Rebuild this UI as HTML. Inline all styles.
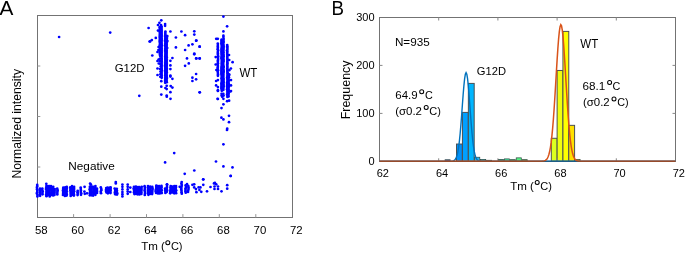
<!DOCTYPE html>
<html><head><meta charset="utf-8"><title>Figure</title>
<style>html,body{margin:0;padding:0;background:#fff}svg{display:block;will-change:transform}</style>
</head><body>
<svg width="685" height="253" viewBox="0 0 685 253" font-family="'Liberation Sans', sans-serif" fill="#000">
<rect width="685" height="253" fill="#fff"/>
<rect x="37.5" y="15.5" width="255.0" height="202.0" fill="none" stroke="#737373" stroke-width="1"/>
<path d="M73.6 217.5v-3.4M110.1 217.5v-3.4M146.5 217.5v-3.4M182.9 217.5v-3.4M219.3 217.5v-3.4M255.8 217.5v-3.4M37.5 66.0h2.8M37.5 116.5h2.8M37.5 167.0h2.8" stroke="#969696" stroke-width="1" fill="none"/>
<g fill="#0000ff">
<circle cx="59.1" cy="37.0" r="1.36"/>
<circle cx="110.2" cy="32.6" r="1.36"/>
<circle cx="148.6" cy="28.0" r="1.36"/>
<circle cx="149.6" cy="41.5" r="1.36"/>
<circle cx="161.3" cy="20.3" r="1.36"/>
<circle cx="159.4" cy="22.8" r="1.36"/>
<circle cx="158.0" cy="25.0" r="1.36"/>
<circle cx="161.0" cy="25.0" r="1.36"/>
<circle cx="165.1" cy="24.0" r="1.36"/>
<circle cx="165.1" cy="25.8" r="1.36"/>
<circle cx="159.7" cy="27.1" r="1.36"/>
<circle cx="158.0" cy="30.6" r="1.36"/>
<circle cx="170.4" cy="31.5" r="1.36"/>
<circle cx="181.4" cy="31.5" r="1.36"/>
<circle cx="185.1" cy="35.2" r="1.36"/>
<circle cx="194.3" cy="31.3" r="1.36"/>
<circle cx="194.3" cy="34.6" r="1.36"/>
<circle cx="159.9" cy="27.5" r="1.36"/>
<circle cx="159.8" cy="28.8" r="1.36"/>
<circle cx="159.9" cy="30.0" r="1.36"/>
<circle cx="159.8" cy="31.2" r="1.36"/>
<circle cx="159.9" cy="32.5" r="1.36"/>
<circle cx="159.9" cy="33.8" r="1.36"/>
<circle cx="159.8" cy="35.0" r="1.36"/>
<circle cx="159.9" cy="36.2" r="1.36"/>
<circle cx="159.8" cy="37.5" r="1.36"/>
<circle cx="159.9" cy="38.8" r="1.36"/>
<circle cx="159.8" cy="40.0" r="1.36"/>
<circle cx="159.8" cy="41.2" r="1.36"/>
<circle cx="159.9" cy="42.5" r="1.36"/>
<circle cx="160.0" cy="43.8" r="1.36"/>
<circle cx="159.8" cy="45.0" r="1.36"/>
<circle cx="159.8" cy="46.2" r="1.36"/>
<circle cx="159.9" cy="47.5" r="1.36"/>
<circle cx="160.0" cy="48.8" r="1.36"/>
<circle cx="159.9" cy="50.0" r="1.36"/>
<circle cx="159.9" cy="51.2" r="1.36"/>
<circle cx="160.0" cy="52.5" r="1.36"/>
<circle cx="159.8" cy="53.8" r="1.36"/>
<circle cx="160.0" cy="55.0" r="1.36"/>
<circle cx="160.2" cy="56.0" r="1.36"/>
<circle cx="160.0" cy="58.6" r="1.36"/>
<circle cx="160.0" cy="61.2" r="1.36"/>
<circle cx="160.2" cy="63.8" r="1.36"/>
<circle cx="160.7" cy="66.4" r="1.36"/>
<circle cx="160.1" cy="69.0" r="1.36"/>
<circle cx="160.5" cy="71.6" r="1.36"/>
<circle cx="160.5" cy="74.2" r="1.36"/>
<circle cx="160.3" cy="76.8" r="1.36"/>
<circle cx="161.6" cy="26.5" r="1.36"/>
<circle cx="161.5" cy="27.8" r="1.36"/>
<circle cx="161.5" cy="29.0" r="1.36"/>
<circle cx="161.5" cy="30.2" r="1.36"/>
<circle cx="161.6" cy="31.5" r="1.36"/>
<circle cx="161.6" cy="32.8" r="1.36"/>
<circle cx="161.6" cy="34.0" r="1.36"/>
<circle cx="161.6" cy="35.2" r="1.36"/>
<circle cx="161.6" cy="36.5" r="1.36"/>
<circle cx="161.6" cy="37.8" r="1.36"/>
<circle cx="161.7" cy="39.0" r="1.36"/>
<circle cx="161.6" cy="40.2" r="1.36"/>
<circle cx="161.5" cy="41.5" r="1.36"/>
<circle cx="161.6" cy="42.8" r="1.36"/>
<circle cx="161.6" cy="44.0" r="1.36"/>
<circle cx="161.7" cy="45.2" r="1.36"/>
<circle cx="161.6" cy="46.5" r="1.36"/>
<circle cx="161.6" cy="47.8" r="1.36"/>
<circle cx="161.7" cy="49.0" r="1.36"/>
<circle cx="161.5" cy="50.2" r="1.36"/>
<circle cx="161.6" cy="51.5" r="1.36"/>
<circle cx="161.7" cy="52.8" r="1.36"/>
<circle cx="161.5" cy="54.0" r="1.36"/>
<circle cx="161.6" cy="55.2" r="1.36"/>
<circle cx="161.5" cy="56.5" r="1.36"/>
<circle cx="161.6" cy="57.8" r="1.36"/>
<circle cx="161.7" cy="59.0" r="1.36"/>
<circle cx="161.6" cy="60.2" r="1.36"/>
<circle cx="161.7" cy="61.5" r="1.36"/>
<circle cx="161.6" cy="62.8" r="1.36"/>
<circle cx="161.6" cy="64.0" r="1.36"/>
<circle cx="161.6" cy="65.2" r="1.36"/>
<circle cx="161.6" cy="66.5" r="1.36"/>
<circle cx="161.6" cy="67.8" r="1.36"/>
<circle cx="161.7" cy="69.0" r="1.36"/>
<circle cx="161.7" cy="70.2" r="1.36"/>
<circle cx="161.6" cy="71.5" r="1.36"/>
<circle cx="161.6" cy="72.8" r="1.36"/>
<circle cx="161.5" cy="74.0" r="1.36"/>
<circle cx="161.6" cy="75.2" r="1.36"/>
<circle cx="161.6" cy="76.5" r="1.36"/>
<circle cx="161.7" cy="77.8" r="1.36"/>
<circle cx="165.4" cy="31.5" r="1.36"/>
<circle cx="165.3" cy="32.8" r="1.36"/>
<circle cx="165.3" cy="34.0" r="1.36"/>
<circle cx="165.3" cy="35.2" r="1.36"/>
<circle cx="165.2" cy="36.5" r="1.36"/>
<circle cx="165.3" cy="37.8" r="1.36"/>
<circle cx="165.2" cy="39.0" r="1.36"/>
<circle cx="165.2" cy="40.2" r="1.36"/>
<circle cx="165.2" cy="41.5" r="1.36"/>
<circle cx="165.4" cy="42.8" r="1.36"/>
<circle cx="165.2" cy="44.0" r="1.36"/>
<circle cx="165.2" cy="45.2" r="1.36"/>
<circle cx="165.3" cy="46.5" r="1.36"/>
<circle cx="165.4" cy="47.8" r="1.36"/>
<circle cx="165.2" cy="49.0" r="1.36"/>
<circle cx="165.3" cy="50.2" r="1.36"/>
<circle cx="165.3" cy="51.5" r="1.36"/>
<circle cx="165.4" cy="52.8" r="1.36"/>
<circle cx="165.4" cy="54.0" r="1.36"/>
<circle cx="165.4" cy="55.2" r="1.36"/>
<circle cx="165.3" cy="56.5" r="1.36"/>
<circle cx="165.3" cy="57.8" r="1.36"/>
<circle cx="165.3" cy="59.0" r="1.36"/>
<circle cx="165.4" cy="60.2" r="1.36"/>
<circle cx="165.4" cy="61.5" r="1.36"/>
<circle cx="165.2" cy="62.8" r="1.36"/>
<circle cx="165.2" cy="64.0" r="1.36"/>
<circle cx="165.2" cy="65.2" r="1.36"/>
<circle cx="165.2" cy="66.5" r="1.36"/>
<circle cx="165.3" cy="67.8" r="1.36"/>
<circle cx="165.3" cy="69.0" r="1.36"/>
<circle cx="165.3" cy="70.2" r="1.36"/>
<circle cx="165.2" cy="71.5" r="1.36"/>
<circle cx="165.3" cy="72.8" r="1.36"/>
<circle cx="165.3" cy="74.0" r="1.36"/>
<circle cx="165.3" cy="75.2" r="1.36"/>
<circle cx="165.4" cy="76.5" r="1.36"/>
<circle cx="165.3" cy="77.8" r="1.36"/>
<circle cx="165.3" cy="79.0" r="1.36"/>
<circle cx="165.3" cy="80.2" r="1.36"/>
<circle cx="165.3" cy="81.5" r="1.36"/>
<circle cx="165.2" cy="82.8" r="1.36"/>
<circle cx="166.8" cy="36.0" r="1.36"/>
<circle cx="166.8" cy="37.2" r="1.36"/>
<circle cx="166.8" cy="38.5" r="1.36"/>
<circle cx="166.8" cy="39.8" r="1.36"/>
<circle cx="166.7" cy="41.0" r="1.36"/>
<circle cx="166.7" cy="42.2" r="1.36"/>
<circle cx="166.6" cy="43.5" r="1.36"/>
<circle cx="166.7" cy="44.8" r="1.36"/>
<circle cx="166.6" cy="46.0" r="1.36"/>
<circle cx="166.6" cy="47.2" r="1.36"/>
<circle cx="166.6" cy="48.5" r="1.36"/>
<circle cx="166.6" cy="49.8" r="1.36"/>
<circle cx="166.7" cy="51.0" r="1.36"/>
<circle cx="166.6" cy="52.2" r="1.36"/>
<circle cx="166.6" cy="53.5" r="1.36"/>
<circle cx="166.6" cy="54.8" r="1.36"/>
<circle cx="166.6" cy="56.0" r="1.36"/>
<circle cx="166.7" cy="57.2" r="1.36"/>
<circle cx="166.6" cy="58.5" r="1.36"/>
<circle cx="166.8" cy="59.8" r="1.36"/>
<circle cx="166.7" cy="61.0" r="1.36"/>
<circle cx="166.6" cy="62.2" r="1.36"/>
<circle cx="166.7" cy="63.5" r="1.36"/>
<circle cx="166.7" cy="64.8" r="1.36"/>
<circle cx="166.7" cy="66.0" r="1.36"/>
<circle cx="166.6" cy="67.2" r="1.36"/>
<circle cx="166.8" cy="68.5" r="1.36"/>
<circle cx="166.8" cy="69.8" r="1.36"/>
<circle cx="166.7" cy="71.0" r="1.36"/>
<circle cx="166.7" cy="72.2" r="1.36"/>
<circle cx="166.6" cy="73.5" r="1.36"/>
<circle cx="166.6" cy="74.8" r="1.36"/>
<circle cx="166.7" cy="76.0" r="1.36"/>
<circle cx="166.7" cy="77.2" r="1.36"/>
<circle cx="166.8" cy="78.5" r="1.36"/>
<circle cx="166.6" cy="79.8" r="1.36"/>
<circle cx="166.6" cy="81.0" r="1.36"/>
<circle cx="166.8" cy="82.2" r="1.36"/>
<circle cx="158.6" cy="47" r="1.36"/>
<circle cx="158.4" cy="50" r="1.36"/>
<circle cx="157.5" cy="52.0" r="1.36"/>
<circle cx="157.5" cy="61.0" r="1.36"/>
<circle cx="158.6" cy="59.5" r="1.36"/>
<circle cx="158.8" cy="63.5" r="1.36"/>
<circle cx="157.5" cy="68.5" r="1.36"/>
<circle cx="157.5" cy="75.0" r="1.36"/>
<circle cx="155.8" cy="37.9" r="1.36"/>
<circle cx="150.1" cy="41.4" r="1.36"/>
<circle cx="151.8" cy="40.1" r="1.36"/>
<circle cx="152.3" cy="55.5" r="1.36"/>
<circle cx="167.3" cy="36" r="1.36"/>
<circle cx="167.4" cy="41" r="1.36"/>
<circle cx="167.2" cy="48" r="1.36"/>
<circle cx="175.9" cy="37.5" r="1.36"/>
<circle cx="196.1" cy="40.7" r="1.36"/>
<circle cx="192.4" cy="44.3" r="1.36"/>
<circle cx="188.6" cy="45.4" r="1.36"/>
<circle cx="175.9" cy="47.4" r="1.36"/>
<circle cx="185.1" cy="50.0" r="1.36"/>
<circle cx="199.6" cy="46.7" r="1.36"/>
<circle cx="194.3" cy="53.5" r="1.36"/>
<circle cx="172.4" cy="58.0" r="1.36"/>
<circle cx="170.4" cy="60.8" r="1.36"/>
<circle cx="170.4" cy="65.4" r="1.36"/>
<circle cx="170.4" cy="69.1" r="1.36"/>
<circle cx="170.4" cy="75.5" r="1.36"/>
<circle cx="187.0" cy="58.4" r="1.36"/>
<circle cx="196.1" cy="58.4" r="1.36"/>
<circle cx="199.6" cy="58.4" r="1.36"/>
<circle cx="188.8" cy="63.4" r="1.36"/>
<circle cx="185.1" cy="65.8" r="1.36"/>
<circle cx="196.1" cy="74.0" r="1.36"/>
<circle cx="194.3" cy="54.3" r="1.36"/>
<circle cx="170.4" cy="76.6" r="1.36"/>
<circle cx="172.4" cy="78.8" r="1.36"/>
<circle cx="192.4" cy="77.7" r="1.36"/>
<circle cx="196.1" cy="79.3" r="1.36"/>
<circle cx="192.4" cy="81.0" r="1.36"/>
<circle cx="196.4" cy="40.6" r="1.36"/>
<circle cx="199.7" cy="46.7" r="1.36"/>
<circle cx="161.3" cy="81.2" r="1.36"/>
<circle cx="161.3" cy="86.7" r="1.36"/>
<circle cx="166.7" cy="85.8" r="1.36"/>
<circle cx="165.4" cy="88.0" r="1.36"/>
<circle cx="166.7" cy="89.1" r="1.36"/>
<circle cx="170.7" cy="86.1" r="1.36"/>
<circle cx="172.4" cy="87.6" r="1.36"/>
<circle cx="170.4" cy="92.2" r="1.36"/>
<circle cx="161.3" cy="94.6" r="1.36"/>
<circle cx="166.7" cy="95.5" r="1.36"/>
<circle cx="170.5" cy="98.8" r="1.36"/>
<circle cx="166.8" cy="96.7" r="1.36"/>
<circle cx="139.3" cy="95.8" r="1.36"/>
<circle cx="199.7" cy="92.3" r="1.36"/>
<circle cx="223.4" cy="16.6" r="1.36"/>
<circle cx="227.1" cy="26.3" r="1.36"/>
<circle cx="223.4" cy="31.4" r="1.36"/>
<circle cx="223.4" cy="35.7" r="1.36"/>
<circle cx="223.4" cy="37.1" r="1.36"/>
<circle cx="216.2" cy="38.8" r="1.36"/>
<circle cx="217.8" cy="38.8" r="1.36"/>
<circle cx="221.6" cy="39.5" r="1.36"/>
<circle cx="221.4" cy="40.8" r="1.36"/>
<circle cx="221.6" cy="42.0" r="1.36"/>
<circle cx="221.4" cy="43.2" r="1.36"/>
<circle cx="221.6" cy="44.5" r="1.36"/>
<circle cx="221.8" cy="45.8" r="1.36"/>
<circle cx="221.8" cy="47.0" r="1.36"/>
<circle cx="221.7" cy="48.2" r="1.36"/>
<circle cx="221.5" cy="49.5" r="1.36"/>
<circle cx="221.5" cy="50.8" r="1.36"/>
<circle cx="221.4" cy="52.0" r="1.36"/>
<circle cx="221.7" cy="53.2" r="1.36"/>
<circle cx="221.6" cy="54.5" r="1.36"/>
<circle cx="221.7" cy="55.8" r="1.36"/>
<circle cx="221.5" cy="57.0" r="1.36"/>
<circle cx="221.5" cy="58.2" r="1.36"/>
<circle cx="221.8" cy="59.5" r="1.36"/>
<circle cx="221.8" cy="60.8" r="1.36"/>
<circle cx="221.8" cy="62.0" r="1.36"/>
<circle cx="221.8" cy="63.2" r="1.36"/>
<circle cx="221.8" cy="64.5" r="1.36"/>
<circle cx="221.7" cy="65.8" r="1.36"/>
<circle cx="221.5" cy="67.0" r="1.36"/>
<circle cx="221.6" cy="68.2" r="1.36"/>
<circle cx="221.5" cy="69.5" r="1.36"/>
<circle cx="221.4" cy="70.8" r="1.36"/>
<circle cx="221.4" cy="72.0" r="1.36"/>
<circle cx="221.5" cy="73.2" r="1.36"/>
<circle cx="221.5" cy="74.5" r="1.36"/>
<circle cx="221.7" cy="75.8" r="1.36"/>
<circle cx="221.8" cy="77.0" r="1.36"/>
<circle cx="221.6" cy="78.2" r="1.36"/>
<circle cx="221.8" cy="79.5" r="1.36"/>
<circle cx="221.8" cy="80.8" r="1.36"/>
<circle cx="221.8" cy="82.0" r="1.36"/>
<circle cx="221.5" cy="83.2" r="1.36"/>
<circle cx="221.5" cy="84.5" r="1.36"/>
<circle cx="221.5" cy="85.8" r="1.36"/>
<circle cx="221.4" cy="87.0" r="1.36"/>
<circle cx="221.5" cy="88.2" r="1.36"/>
<circle cx="221.7" cy="89.5" r="1.36"/>
<circle cx="221.8" cy="90.8" r="1.36"/>
<circle cx="223.6" cy="38.8" r="1.36"/>
<circle cx="223.4" cy="40.0" r="1.36"/>
<circle cx="223.5" cy="41.3" r="1.36"/>
<circle cx="223.5" cy="42.5" r="1.36"/>
<circle cx="223.2" cy="43.8" r="1.36"/>
<circle cx="223.5" cy="45.0" r="1.36"/>
<circle cx="223.6" cy="46.3" r="1.36"/>
<circle cx="223.5" cy="47.5" r="1.36"/>
<circle cx="223.5" cy="48.8" r="1.36"/>
<circle cx="223.4" cy="50.0" r="1.36"/>
<circle cx="223.2" cy="51.3" r="1.36"/>
<circle cx="223.5" cy="52.5" r="1.36"/>
<circle cx="223.3" cy="53.8" r="1.36"/>
<circle cx="223.6" cy="55.0" r="1.36"/>
<circle cx="223.6" cy="56.3" r="1.36"/>
<circle cx="223.3" cy="57.5" r="1.36"/>
<circle cx="223.4" cy="58.8" r="1.36"/>
<circle cx="223.6" cy="60.0" r="1.36"/>
<circle cx="223.5" cy="61.3" r="1.36"/>
<circle cx="223.2" cy="62.5" r="1.36"/>
<circle cx="223.2" cy="63.8" r="1.36"/>
<circle cx="223.2" cy="65.0" r="1.36"/>
<circle cx="223.6" cy="66.3" r="1.36"/>
<circle cx="223.6" cy="67.5" r="1.36"/>
<circle cx="223.2" cy="68.8" r="1.36"/>
<circle cx="223.6" cy="70.0" r="1.36"/>
<circle cx="223.6" cy="71.3" r="1.36"/>
<circle cx="223.5" cy="72.5" r="1.36"/>
<circle cx="223.3" cy="73.8" r="1.36"/>
<circle cx="223.4" cy="75.0" r="1.36"/>
<circle cx="223.2" cy="76.3" r="1.36"/>
<circle cx="223.2" cy="77.5" r="1.36"/>
<circle cx="223.6" cy="78.8" r="1.36"/>
<circle cx="223.5" cy="80.0" r="1.36"/>
<circle cx="223.4" cy="81.3" r="1.36"/>
<circle cx="223.6" cy="82.5" r="1.36"/>
<circle cx="223.4" cy="83.8" r="1.36"/>
<circle cx="223.6" cy="85.0" r="1.36"/>
<circle cx="223.6" cy="86.3" r="1.36"/>
<circle cx="223.3" cy="87.5" r="1.36"/>
<circle cx="223.3" cy="88.8" r="1.36"/>
<circle cx="223.3" cy="90.0" r="1.36"/>
<circle cx="217.8" cy="43.6" r="1.36"/>
<circle cx="217.9" cy="45.0" r="1.36"/>
<circle cx="217.8" cy="46.4" r="1.36"/>
<circle cx="217.9" cy="47.8" r="1.36"/>
<circle cx="217.7" cy="49.2" r="1.36"/>
<circle cx="218.1" cy="50.6" r="1.36"/>
<circle cx="217.8" cy="52.0" r="1.36"/>
<circle cx="217.9" cy="53.4" r="1.36"/>
<circle cx="217.9" cy="54.8" r="1.36"/>
<circle cx="218.1" cy="56.2" r="1.36"/>
<circle cx="217.9" cy="57.6" r="1.36"/>
<circle cx="218.1" cy="59.0" r="1.36"/>
<circle cx="217.9" cy="60.4" r="1.36"/>
<circle cx="217.9" cy="61.8" r="1.36"/>
<circle cx="217.9" cy="63.2" r="1.36"/>
<circle cx="217.7" cy="64.6" r="1.36"/>
<circle cx="217.9" cy="66.0" r="1.36"/>
<circle cx="217.7" cy="67.4" r="1.36"/>
<circle cx="217.7" cy="68.8" r="1.36"/>
<circle cx="218.0" cy="70.2" r="1.36"/>
<circle cx="217.7" cy="71.6" r="1.36"/>
<circle cx="217.9" cy="73.0" r="1.36"/>
<circle cx="218.0" cy="74.4" r="1.36"/>
<circle cx="217.9" cy="75.8" r="1.36"/>
<circle cx="227.2" cy="45.0" r="1.36"/>
<circle cx="227.3" cy="46.3" r="1.36"/>
<circle cx="227.3" cy="47.6" r="1.36"/>
<circle cx="227.4" cy="48.9" r="1.36"/>
<circle cx="227.1" cy="50.2" r="1.36"/>
<circle cx="227.3" cy="51.5" r="1.36"/>
<circle cx="227.2" cy="52.8" r="1.36"/>
<circle cx="227.2" cy="54.1" r="1.36"/>
<circle cx="227.4" cy="55.4" r="1.36"/>
<circle cx="227.3" cy="56.7" r="1.36"/>
<circle cx="227.3" cy="58.0" r="1.36"/>
<circle cx="227.4" cy="59.3" r="1.36"/>
<circle cx="227.5" cy="60.6" r="1.36"/>
<circle cx="227.3" cy="61.9" r="1.36"/>
<circle cx="227.4" cy="63.2" r="1.36"/>
<circle cx="227.3" cy="64.5" r="1.36"/>
<circle cx="227.3" cy="65.8" r="1.36"/>
<circle cx="227.4" cy="67.1" r="1.36"/>
<circle cx="227.3" cy="68.4" r="1.36"/>
<circle cx="227.3" cy="69.7" r="1.36"/>
<circle cx="227.3" cy="71.0" r="1.36"/>
<circle cx="227.5" cy="72.3" r="1.36"/>
<circle cx="227.4" cy="73.6" r="1.36"/>
<circle cx="227.5" cy="74.9" r="1.36"/>
<circle cx="227.5" cy="76.2" r="1.36"/>
<circle cx="227.2" cy="77.5" r="1.36"/>
<circle cx="227.3" cy="78.8" r="1.36"/>
<circle cx="227.5" cy="80.1" r="1.36"/>
<circle cx="227.5" cy="81.4" r="1.36"/>
<circle cx="227.1" cy="82.7" r="1.36"/>
<circle cx="227.1" cy="84.0" r="1.36"/>
<circle cx="227.3" cy="85.3" r="1.36"/>
<circle cx="227.1" cy="86.6" r="1.36"/>
<circle cx="227.2" cy="87.9" r="1.36"/>
<circle cx="227.1" cy="89.2" r="1.36"/>
<circle cx="227.4" cy="90.5" r="1.36"/>
<circle cx="227.4" cy="91.8" r="1.36"/>
<circle cx="227.5" cy="93.1" r="1.36"/>
<circle cx="227.1" cy="94.4" r="1.36"/>
<circle cx="227.4" cy="95.7" r="1.36"/>
<circle cx="227.4" cy="97.0" r="1.36"/>
<circle cx="228.5" cy="74.0" r="1.36"/>
<circle cx="228.9" cy="75.6" r="1.36"/>
<circle cx="228.9" cy="77.2" r="1.36"/>
<circle cx="228.6" cy="78.8" r="1.36"/>
<circle cx="228.9" cy="80.4" r="1.36"/>
<circle cx="228.6" cy="82.0" r="1.36"/>
<circle cx="228.7" cy="83.6" r="1.36"/>
<circle cx="228.9" cy="85.2" r="1.36"/>
<circle cx="228.9" cy="86.8" r="1.36"/>
<circle cx="228.5" cy="88.4" r="1.36"/>
<circle cx="228.7" cy="90.0" r="1.36"/>
<circle cx="228.7" cy="91.6" r="1.36"/>
<circle cx="228.6" cy="93.2" r="1.36"/>
<circle cx="228.5" cy="94.8" r="1.36"/>
<circle cx="228.6" cy="96.4" r="1.36"/>
<circle cx="215.7" cy="57.1" r="1.36"/>
<circle cx="215.7" cy="64.5" r="1.36"/>
<circle cx="216.4" cy="70" r="1.36"/>
<circle cx="232.6" cy="62.2" r="1.36"/>
<circle cx="230.9" cy="68.5" r="1.36"/>
<circle cx="229.3" cy="70.2" r="1.36"/>
<circle cx="229.3" cy="74.6" r="1.36"/>
<circle cx="229.0" cy="55" r="1.36"/>
<circle cx="229.2" cy="60" r="1.36"/>
<circle cx="217.9" cy="80.1" r="1.36"/>
<circle cx="216.1" cy="81.0" r="1.36"/>
<circle cx="216.1" cy="85.4" r="1.36"/>
<circle cx="217.9" cy="87.1" r="1.36"/>
<circle cx="217.9" cy="90.2" r="1.36"/>
<circle cx="217.9" cy="90.9" r="1.36"/>
<circle cx="231.0" cy="80.1" r="1.36"/>
<circle cx="231.0" cy="85.4" r="1.36"/>
<circle cx="231.0" cy="91.1" r="1.36"/>
<circle cx="230.2" cy="91.5" r="1.36"/>
<circle cx="221.6" cy="93.8" r="1.36"/>
<circle cx="223.3" cy="93.8" r="1.36"/>
<circle cx="221.6" cy="95.5" r="1.36"/>
<circle cx="223.6" cy="95.6" r="1.36"/>
<circle cx="222.2" cy="96.8" r="1.36"/>
<circle cx="223.4" cy="98.8" r="1.36"/>
<circle cx="217.9" cy="99.0" r="1.36"/>
<circle cx="217.6" cy="98.8" r="1.36"/>
<circle cx="227.1" cy="101.2" r="1.36"/>
<circle cx="229.1" cy="100.7" r="1.36"/>
<circle cx="223.4" cy="104.3" r="1.36"/>
<circle cx="221.5" cy="108.1" r="1.36"/>
<circle cx="229.0" cy="115.8" r="1.36"/>
<circle cx="221.4" cy="117.7" r="1.36"/>
<circle cx="223.4" cy="119.4" r="1.36"/>
<circle cx="229.0" cy="122.2" r="1.36"/>
<circle cx="227.2" cy="128.7" r="1.36"/>
<circle cx="227.0" cy="130.0" r="1.36"/>
<circle cx="196.4" cy="58.4" r="1.36"/>
<circle cx="199.7" cy="58.4" r="1.36"/>
<circle cx="199.7" cy="92.3" r="1.36"/>
<circle cx="174.2" cy="153.1" r="1.36"/>
<circle cx="165.1" cy="162.4" r="1.36"/>
<circle cx="194.3" cy="170.5" r="1.36"/>
<circle cx="184.7" cy="173.8" r="1.36"/>
<circle cx="223.4" cy="144.3" r="1.36"/>
<circle cx="216.0" cy="161.5" r="1.36"/>
<circle cx="223.4" cy="166.4" r="1.36"/>
<circle cx="232.5" cy="167.4" r="1.36"/>
<circle cx="230.7" cy="175.9" r="1.36"/>
<circle cx="203.2" cy="179.3" r="1.36"/>
<circle cx="214.9" cy="182.9" r="1.36"/>
<circle cx="37.2" cy="184.9" r="1.36"/>
<circle cx="37.2" cy="186.4" r="1.36"/>
<circle cx="36.9" cy="187.8" r="1.36"/>
<circle cx="37.1" cy="189.3" r="1.36"/>
<circle cx="37.3" cy="190.7" r="1.36"/>
<circle cx="37.2" cy="192.2" r="1.36"/>
<circle cx="36.9" cy="193.6" r="1.36"/>
<circle cx="37.5" cy="195.1" r="1.36"/>
<circle cx="37.4" cy="196.5" r="1.36"/>
<circle cx="40.0" cy="188.6" r="1.36"/>
<circle cx="39.8" cy="190.0" r="1.36"/>
<circle cx="40.3" cy="191.5" r="1.36"/>
<circle cx="40.0" cy="192.9" r="1.36"/>
<circle cx="39.9" cy="194.4" r="1.36"/>
<circle cx="40.1" cy="195.8" r="1.36"/>
<circle cx="42.3" cy="188.5" r="1.36"/>
<circle cx="42.2" cy="190.0" r="1.36"/>
<circle cx="42.7" cy="191.4" r="1.36"/>
<circle cx="42.4" cy="192.9" r="1.36"/>
<circle cx="42.5" cy="194.3" r="1.36"/>
<circle cx="46.4" cy="186.1" r="1.36"/>
<circle cx="46.3" cy="187.5" r="1.36"/>
<circle cx="46.0" cy="189.0" r="1.36"/>
<circle cx="46.6" cy="190.4" r="1.36"/>
<circle cx="46.4" cy="191.9" r="1.36"/>
<circle cx="46.5" cy="193.3" r="1.36"/>
<circle cx="46.1" cy="194.8" r="1.36"/>
<circle cx="46.5" cy="196.2" r="1.36"/>
<circle cx="47.9" cy="186.1" r="1.36"/>
<circle cx="47.9" cy="187.5" r="1.36"/>
<circle cx="48.0" cy="189.0" r="1.36"/>
<circle cx="48.2" cy="190.4" r="1.36"/>
<circle cx="47.8" cy="191.9" r="1.36"/>
<circle cx="47.8" cy="193.3" r="1.36"/>
<circle cx="48.0" cy="194.8" r="1.36"/>
<circle cx="49.4" cy="186.2" r="1.36"/>
<circle cx="49.4" cy="187.7" r="1.36"/>
<circle cx="49.5" cy="189.1" r="1.36"/>
<circle cx="49.5" cy="190.6" r="1.36"/>
<circle cx="49.5" cy="192.0" r="1.36"/>
<circle cx="49.8" cy="193.5" r="1.36"/>
<circle cx="49.5" cy="194.9" r="1.36"/>
<circle cx="49.7" cy="196.4" r="1.36"/>
<circle cx="51.0" cy="186.2" r="1.36"/>
<circle cx="51.2" cy="187.6" r="1.36"/>
<circle cx="51.0" cy="189.1" r="1.36"/>
<circle cx="51.5" cy="190.5" r="1.36"/>
<circle cx="51.4" cy="192.0" r="1.36"/>
<circle cx="51.1" cy="193.4" r="1.36"/>
<circle cx="51.3" cy="194.9" r="1.36"/>
<circle cx="53.2" cy="186.8" r="1.36"/>
<circle cx="53.0" cy="188.3" r="1.36"/>
<circle cx="53.0" cy="189.7" r="1.36"/>
<circle cx="53.2" cy="191.2" r="1.36"/>
<circle cx="52.9" cy="192.6" r="1.36"/>
<circle cx="53.0" cy="194.1" r="1.36"/>
<circle cx="53.1" cy="195.5" r="1.36"/>
<circle cx="54.7" cy="189.1" r="1.36"/>
<circle cx="54.6" cy="190.5" r="1.36"/>
<circle cx="54.6" cy="192.0" r="1.36"/>
<circle cx="54.4" cy="193.4" r="1.36"/>
<circle cx="54.4" cy="194.9" r="1.36"/>
<circle cx="57.2" cy="188.7" r="1.36"/>
<circle cx="57.6" cy="190.2" r="1.36"/>
<circle cx="57.4" cy="191.6" r="1.36"/>
<circle cx="57.3" cy="193.1" r="1.36"/>
<circle cx="57.3" cy="194.5" r="1.36"/>
<circle cx="63.3" cy="187.7" r="1.36"/>
<circle cx="63.1" cy="189.1" r="1.36"/>
<circle cx="63.0" cy="190.6" r="1.36"/>
<circle cx="63.1" cy="192.0" r="1.36"/>
<circle cx="63.2" cy="193.5" r="1.36"/>
<circle cx="63.0" cy="194.9" r="1.36"/>
<circle cx="65.3" cy="187.3" r="1.36"/>
<circle cx="65.3" cy="188.8" r="1.36"/>
<circle cx="65.0" cy="190.2" r="1.36"/>
<circle cx="64.8" cy="191.7" r="1.36"/>
<circle cx="65.3" cy="193.1" r="1.36"/>
<circle cx="64.9" cy="194.6" r="1.36"/>
<circle cx="64.9" cy="196.0" r="1.36"/>
<circle cx="66.8" cy="186.9" r="1.36"/>
<circle cx="66.8" cy="188.4" r="1.36"/>
<circle cx="66.6" cy="189.8" r="1.36"/>
<circle cx="66.8" cy="191.3" r="1.36"/>
<circle cx="66.5" cy="192.7" r="1.36"/>
<circle cx="66.7" cy="194.2" r="1.36"/>
<circle cx="66.6" cy="195.6" r="1.36"/>
<circle cx="70.3" cy="187.3" r="1.36"/>
<circle cx="70.5" cy="188.7" r="1.36"/>
<circle cx="70.4" cy="190.2" r="1.36"/>
<circle cx="70.7" cy="191.6" r="1.36"/>
<circle cx="70.6" cy="193.1" r="1.36"/>
<circle cx="70.8" cy="194.5" r="1.36"/>
<circle cx="70.7" cy="196.0" r="1.36"/>
<circle cx="72.2" cy="187.5" r="1.36"/>
<circle cx="72.1" cy="189.0" r="1.36"/>
<circle cx="72.5" cy="190.4" r="1.36"/>
<circle cx="72.0" cy="191.9" r="1.36"/>
<circle cx="72.4" cy="193.3" r="1.36"/>
<circle cx="72.3" cy="194.8" r="1.36"/>
<circle cx="74.1" cy="186.9" r="1.36"/>
<circle cx="74.0" cy="188.4" r="1.36"/>
<circle cx="74.0" cy="189.8" r="1.36"/>
<circle cx="74.1" cy="191.3" r="1.36"/>
<circle cx="73.7" cy="192.7" r="1.36"/>
<circle cx="73.9" cy="194.2" r="1.36"/>
<circle cx="73.9" cy="195.6" r="1.36"/>
<circle cx="77.7" cy="190.8" r="1.36"/>
<circle cx="77.6" cy="192.2" r="1.36"/>
<circle cx="77.7" cy="193.7" r="1.36"/>
<circle cx="77.6" cy="195.1" r="1.36"/>
<circle cx="80.7" cy="187.5" r="1.36"/>
<circle cx="80.8" cy="189.0" r="1.36"/>
<circle cx="80.9" cy="190.4" r="1.36"/>
<circle cx="80.8" cy="191.9" r="1.36"/>
<circle cx="81.2" cy="193.3" r="1.36"/>
<circle cx="81.0" cy="194.8" r="1.36"/>
<circle cx="90.0" cy="186.6" r="1.36"/>
<circle cx="89.9" cy="188.0" r="1.36"/>
<circle cx="89.6" cy="189.5" r="1.36"/>
<circle cx="90.1" cy="190.9" r="1.36"/>
<circle cx="90.0" cy="192.4" r="1.36"/>
<circle cx="89.9" cy="193.8" r="1.36"/>
<circle cx="89.9" cy="195.3" r="1.36"/>
<circle cx="91.8" cy="186.6" r="1.36"/>
<circle cx="91.6" cy="188.0" r="1.36"/>
<circle cx="91.4" cy="189.5" r="1.36"/>
<circle cx="91.6" cy="190.9" r="1.36"/>
<circle cx="91.8" cy="192.4" r="1.36"/>
<circle cx="91.5" cy="193.8" r="1.36"/>
<circle cx="91.8" cy="195.3" r="1.36"/>
<circle cx="93.4" cy="186.9" r="1.36"/>
<circle cx="93.5" cy="188.3" r="1.36"/>
<circle cx="93.6" cy="189.8" r="1.36"/>
<circle cx="93.7" cy="191.2" r="1.36"/>
<circle cx="93.6" cy="192.7" r="1.36"/>
<circle cx="93.6" cy="194.1" r="1.36"/>
<circle cx="93.2" cy="195.6" r="1.36"/>
<circle cx="95.4" cy="186.1" r="1.36"/>
<circle cx="95.2" cy="187.6" r="1.36"/>
<circle cx="95.3" cy="189.0" r="1.36"/>
<circle cx="95.0" cy="190.5" r="1.36"/>
<circle cx="95.0" cy="191.9" r="1.36"/>
<circle cx="95.2" cy="193.4" r="1.36"/>
<circle cx="95.4" cy="194.8" r="1.36"/>
<circle cx="96.9" cy="188.6" r="1.36"/>
<circle cx="97.0" cy="190.1" r="1.36"/>
<circle cx="97.0" cy="191.5" r="1.36"/>
<circle cx="97.0" cy="193.0" r="1.36"/>
<circle cx="100.8" cy="187.4" r="1.36"/>
<circle cx="101.3" cy="188.9" r="1.36"/>
<circle cx="101.3" cy="190.3" r="1.36"/>
<circle cx="100.7" cy="191.8" r="1.36"/>
<circle cx="101.0" cy="193.2" r="1.36"/>
<circle cx="106.2" cy="188.0" r="1.36"/>
<circle cx="106.1" cy="189.5" r="1.36"/>
<circle cx="106.0" cy="190.9" r="1.36"/>
<circle cx="106.5" cy="192.4" r="1.36"/>
<circle cx="107.5" cy="187.5" r="1.36"/>
<circle cx="107.7" cy="188.9" r="1.36"/>
<circle cx="107.9" cy="190.4" r="1.36"/>
<circle cx="107.4" cy="191.8" r="1.36"/>
<circle cx="107.9" cy="193.3" r="1.36"/>
<circle cx="109.3" cy="187.8" r="1.36"/>
<circle cx="109.0" cy="189.2" r="1.36"/>
<circle cx="109.4" cy="190.7" r="1.36"/>
<circle cx="109.1" cy="192.1" r="1.36"/>
<circle cx="110.6" cy="187.3" r="1.36"/>
<circle cx="110.6" cy="188.8" r="1.36"/>
<circle cx="110.5" cy="190.2" r="1.36"/>
<circle cx="110.4" cy="191.7" r="1.36"/>
<circle cx="110.5" cy="193.1" r="1.36"/>
<circle cx="114.7" cy="188.5" r="1.36"/>
<circle cx="115.2" cy="189.9" r="1.36"/>
<circle cx="115.2" cy="191.4" r="1.36"/>
<circle cx="114.8" cy="192.8" r="1.36"/>
<circle cx="115.3" cy="194.3" r="1.36"/>
<circle cx="116.8" cy="188.8" r="1.36"/>
<circle cx="116.8" cy="190.3" r="1.36"/>
<circle cx="116.8" cy="191.7" r="1.36"/>
<circle cx="117.2" cy="193.2" r="1.36"/>
<circle cx="117.0" cy="194.6" r="1.36"/>
<circle cx="134.0" cy="186.8" r="1.36"/>
<circle cx="133.8" cy="188.3" r="1.36"/>
<circle cx="133.9" cy="189.7" r="1.36"/>
<circle cx="134.3" cy="191.2" r="1.36"/>
<circle cx="134.0" cy="192.6" r="1.36"/>
<circle cx="134.4" cy="194.1" r="1.36"/>
<circle cx="135.9" cy="186.7" r="1.36"/>
<circle cx="135.7" cy="188.2" r="1.36"/>
<circle cx="135.8" cy="189.6" r="1.36"/>
<circle cx="136.2" cy="191.1" r="1.36"/>
<circle cx="136.2" cy="192.5" r="1.36"/>
<circle cx="136.1" cy="194.0" r="1.36"/>
<circle cx="138.0" cy="187.1" r="1.36"/>
<circle cx="137.8" cy="188.5" r="1.36"/>
<circle cx="137.9" cy="190.0" r="1.36"/>
<circle cx="137.5" cy="191.4" r="1.36"/>
<circle cx="137.9" cy="192.9" r="1.36"/>
<circle cx="137.7" cy="194.3" r="1.36"/>
<circle cx="139.4" cy="187.2" r="1.36"/>
<circle cx="139.3" cy="188.6" r="1.36"/>
<circle cx="139.8" cy="190.1" r="1.36"/>
<circle cx="139.4" cy="191.5" r="1.36"/>
<circle cx="139.6" cy="193.0" r="1.36"/>
<circle cx="139.5" cy="194.4" r="1.36"/>
<circle cx="141.7" cy="186.8" r="1.36"/>
<circle cx="141.3" cy="188.2" r="1.36"/>
<circle cx="141.5" cy="189.7" r="1.36"/>
<circle cx="141.3" cy="191.1" r="1.36"/>
<circle cx="141.4" cy="192.6" r="1.36"/>
<circle cx="141.3" cy="194.0" r="1.36"/>
<circle cx="144.6" cy="186.2" r="1.36"/>
<circle cx="145.0" cy="187.6" r="1.36"/>
<circle cx="144.8" cy="189.1" r="1.36"/>
<circle cx="144.6" cy="190.5" r="1.36"/>
<circle cx="145.0" cy="192.0" r="1.36"/>
<circle cx="145.1" cy="193.4" r="1.36"/>
<circle cx="144.8" cy="194.9" r="1.36"/>
<circle cx="148.0" cy="186.1" r="1.36"/>
<circle cx="148.1" cy="187.6" r="1.36"/>
<circle cx="148.0" cy="189.0" r="1.36"/>
<circle cx="148.0" cy="190.5" r="1.36"/>
<circle cx="148.1" cy="191.9" r="1.36"/>
<circle cx="148.2" cy="193.4" r="1.36"/>
<circle cx="148.4" cy="194.8" r="1.36"/>
<circle cx="150.2" cy="186.7" r="1.36"/>
<circle cx="150.3" cy="188.1" r="1.36"/>
<circle cx="150.2" cy="189.6" r="1.36"/>
<circle cx="150.2" cy="191.0" r="1.36"/>
<circle cx="150.0" cy="192.5" r="1.36"/>
<circle cx="150.1" cy="193.9" r="1.36"/>
<circle cx="152.3" cy="186.9" r="1.36"/>
<circle cx="152.4" cy="188.3" r="1.36"/>
<circle cx="152.5" cy="189.8" r="1.36"/>
<circle cx="152.1" cy="191.2" r="1.36"/>
<circle cx="152.2" cy="192.7" r="1.36"/>
<circle cx="152.1" cy="194.1" r="1.36"/>
<circle cx="156.3" cy="185.7" r="1.36"/>
<circle cx="156.2" cy="187.1" r="1.36"/>
<circle cx="156.2" cy="188.6" r="1.36"/>
<circle cx="155.7" cy="190.0" r="1.36"/>
<circle cx="155.7" cy="191.5" r="1.36"/>
<circle cx="156.1" cy="192.9" r="1.36"/>
<circle cx="157.9" cy="186.1" r="1.36"/>
<circle cx="157.5" cy="187.6" r="1.36"/>
<circle cx="157.8" cy="189.0" r="1.36"/>
<circle cx="158.1" cy="190.5" r="1.36"/>
<circle cx="158.0" cy="191.9" r="1.36"/>
<circle cx="158.0" cy="193.4" r="1.36"/>
<circle cx="159.4" cy="186.2" r="1.36"/>
<circle cx="159.5" cy="187.6" r="1.36"/>
<circle cx="159.7" cy="189.1" r="1.36"/>
<circle cx="159.8" cy="190.5" r="1.36"/>
<circle cx="159.9" cy="192.0" r="1.36"/>
<circle cx="159.8" cy="193.4" r="1.36"/>
<circle cx="161.5" cy="185.9" r="1.36"/>
<circle cx="161.5" cy="187.3" r="1.36"/>
<circle cx="161.2" cy="188.8" r="1.36"/>
<circle cx="161.7" cy="190.2" r="1.36"/>
<circle cx="161.3" cy="191.7" r="1.36"/>
<circle cx="161.8" cy="193.1" r="1.36"/>
<circle cx="165.1" cy="188.6" r="1.36"/>
<circle cx="165.2" cy="190.0" r="1.36"/>
<circle cx="165.4" cy="191.5" r="1.36"/>
<circle cx="165.4" cy="192.9" r="1.36"/>
<circle cx="167.0" cy="184.6" r="1.36"/>
<circle cx="167.0" cy="186.1" r="1.36"/>
<circle cx="166.9" cy="187.5" r="1.36"/>
<circle cx="166.8" cy="189.0" r="1.36"/>
<circle cx="167.1" cy="190.4" r="1.36"/>
<circle cx="166.7" cy="191.9" r="1.36"/>
<circle cx="170.7" cy="186.1" r="1.36"/>
<circle cx="170.5" cy="187.5" r="1.36"/>
<circle cx="170.6" cy="189.0" r="1.36"/>
<circle cx="170.4" cy="190.4" r="1.36"/>
<circle cx="170.2" cy="191.9" r="1.36"/>
<circle cx="170.2" cy="193.3" r="1.36"/>
<circle cx="172.1" cy="186.7" r="1.36"/>
<circle cx="171.9" cy="188.1" r="1.36"/>
<circle cx="172.2" cy="189.6" r="1.36"/>
<circle cx="172.3" cy="191.0" r="1.36"/>
<circle cx="172.2" cy="192.5" r="1.36"/>
<circle cx="174.3" cy="186.0" r="1.36"/>
<circle cx="173.9" cy="187.5" r="1.36"/>
<circle cx="173.8" cy="188.9" r="1.36"/>
<circle cx="174.0" cy="190.4" r="1.36"/>
<circle cx="174.0" cy="191.8" r="1.36"/>
<circle cx="174.2" cy="193.3" r="1.36"/>
<circle cx="176.0" cy="186.0" r="1.36"/>
<circle cx="175.9" cy="187.4" r="1.36"/>
<circle cx="175.7" cy="188.9" r="1.36"/>
<circle cx="176.2" cy="190.3" r="1.36"/>
<circle cx="175.8" cy="191.8" r="1.36"/>
<circle cx="176.1" cy="193.2" r="1.36"/>
<circle cx="181.7" cy="182.1" r="1.36"/>
<circle cx="181.4" cy="183.6" r="1.36"/>
<circle cx="181.8" cy="185.0" r="1.36"/>
<circle cx="181.5" cy="186.5" r="1.36"/>
<circle cx="181.3" cy="187.9" r="1.36"/>
<circle cx="181.3" cy="189.4" r="1.36"/>
<circle cx="181.5" cy="190.8" r="1.36"/>
<circle cx="181.6" cy="192.3" r="1.36"/>
<circle cx="181.8" cy="193.7" r="1.36"/>
<circle cx="185.6" cy="185.4" r="1.36"/>
<circle cx="186.1" cy="186.9" r="1.36"/>
<circle cx="185.6" cy="188.3" r="1.36"/>
<circle cx="185.5" cy="189.8" r="1.36"/>
<circle cx="185.5" cy="191.2" r="1.36"/>
<circle cx="185.7" cy="192.7" r="1.36"/>
<circle cx="188.3" cy="186.1" r="1.36"/>
<circle cx="188.5" cy="187.6" r="1.36"/>
<circle cx="188.5" cy="189.0" r="1.36"/>
<circle cx="188.1" cy="190.5" r="1.36"/>
<circle cx="188.0" cy="191.9" r="1.36"/>
<circle cx="84.6" cy="186.8" r="1.36"/>
<circle cx="84.4" cy="191.6" r="1.36"/>
<circle cx="84.8" cy="193.8" r="1.36"/>
<circle cx="87.0" cy="193.3" r="1.36"/>
<circle cx="90.9" cy="184.6" r="1.36"/>
<circle cx="72.0" cy="186.2" r="1.36"/>
<circle cx="122.4" cy="184.6" r="1.36"/>
<circle cx="122.4" cy="186.8" r="1.36"/>
<circle cx="122.4" cy="189.4" r="1.36"/>
<circle cx="122.4" cy="192.0" r="1.36"/>
<circle cx="122.4" cy="194.2" r="1.36"/>
<circle cx="122.4" cy="196.4" r="1.36"/>
<circle cx="127.7" cy="184.6" r="1.36"/>
<circle cx="127.7" cy="186.8" r="1.36"/>
<circle cx="127.7" cy="189.4" r="1.36"/>
<circle cx="127.7" cy="191.6" r="1.36"/>
<circle cx="127.7" cy="193.8" r="1.36"/>
<circle cx="130.3" cy="187.6" r="1.36"/>
<circle cx="130.3" cy="192.0" r="1.36"/>
<circle cx="187.0" cy="184.2" r="1.36"/>
<circle cx="46.3" cy="183.8" r="1.36"/>
<circle cx="90.1" cy="183.6" r="1.36"/>
<circle cx="115.8" cy="182.0" r="1.36"/>
<circle cx="115.8" cy="183.4" r="1.36"/>
<circle cx="179.7" cy="186.8" r="1.36"/>
<circle cx="167.0" cy="184.3" r="1.36"/>
<circle cx="192.4" cy="184.8" r="1.36"/>
<circle cx="194.2" cy="184.3" r="1.36"/>
<circle cx="194.2" cy="187.4" r="1.36"/>
<circle cx="195.9" cy="189.1" r="1.36"/>
<circle cx="196.4" cy="192.2" r="1.36"/>
<circle cx="198.6" cy="187.4" r="1.36"/>
<circle cx="199.4" cy="190.0" r="1.36"/>
<circle cx="203.3" cy="179.5" r="1.36"/>
<circle cx="203.3" cy="184.8" r="1.36"/>
<circle cx="200.4" cy="187.4" r="1.36"/>
<circle cx="201.3" cy="191.8" r="1.36"/>
<circle cx="207.0" cy="191.3" r="1.36"/>
<circle cx="210.5" cy="187.0" r="1.36"/>
<circle cx="214.0" cy="183.4" r="1.36"/>
<circle cx="216.2" cy="184.3" r="1.36"/>
<circle cx="214.5" cy="186.5" r="1.36"/>
<circle cx="218.0" cy="186.5" r="1.36"/>
<circle cx="214.5" cy="189.0" r="1.36"/>
<circle cx="218.0" cy="189.0" r="1.36"/>
<circle cx="221.5" cy="191.3" r="1.36"/>
<circle cx="227.2" cy="185.2" r="1.36"/>
<circle cx="227.2" cy="188.7" r="1.36"/>
<circle cx="230.7" cy="176.0" r="1.36"/>
</g>
<text x="-0.5" y="14.9" font-size="20.8" text-anchor="start" textLength="13.9" lengthAdjust="spacingAndGlyphs">A</text>
<text x="331.4" y="15.1" font-size="20" text-anchor="start" textLength="12.5" lengthAdjust="spacingAndGlyphs">B</text>
<text x="114.7" y="71.9" font-size="11.6" text-anchor="start" textLength="29.8" lengthAdjust="spacingAndGlyphs">G12D</text>
<text x="239.5" y="76.7" font-size="12.2" text-anchor="start" textLength="17.9" lengthAdjust="spacingAndGlyphs">WT</text>
<text x="68.3" y="170.2" font-size="11.6" text-anchor="start" textLength="46.5" lengthAdjust="spacingAndGlyphs">Negative</text>
<text x="41.3" y="234.2" font-size="11.4" text-anchor="middle">58</text>
<text x="77.7" y="234.2" font-size="11.4" text-anchor="middle">60</text>
<text x="114.2" y="234.2" font-size="11.4" text-anchor="middle">62</text>
<text x="150.6" y="234.2" font-size="11.4" text-anchor="middle">64</text>
<text x="187.0" y="234.2" font-size="11.4" text-anchor="middle">66</text>
<text x="223.4" y="234.2" font-size="11.4" text-anchor="middle">68</text>
<text x="259.9" y="234.2" font-size="11.4" text-anchor="middle">70</text>
<text x="296.3" y="234.2" font-size="11.4" text-anchor="middle">72</text>
<text x="141.2" y="250.4" font-size="11.6" text-anchor="start" textLength="23.8" lengthAdjust="spacingAndGlyphs">Tm (</text>
<circle cx="167.8" cy="242.8" r="2.0" fill="none" stroke="#000" stroke-width="1.02"/>
<text x="170.9" y="250.4" font-size="11.6" text-anchor="start" textLength="11.6" lengthAdjust="spacingAndGlyphs">C)</text>
<text transform="translate(20.6,178.6) rotate(-90)" font-size="11.9" textLength="109.6" lengthAdjust="spacingAndGlyphs">Normalized intensity</text>
<rect x="445.04" y="159.77" width="5.10" height="1.53" fill="#1a35b0" stroke="#2c4640" stroke-width="0.7"/>
<rect x="456.50" y="144.04" width="5.83" height="17.26" fill="#0090f8" stroke="#4c5052" stroke-width="1"/>
<rect x="462.43" y="112.41" width="5.83" height="48.89" fill="#00a0ff" stroke="#4c5052" stroke-width="1"/>
<rect x="468.36" y="83.41" width="5.83" height="77.89" fill="#00b6ff" stroke="#4c5052" stroke-width="1"/>
<rect x="474.69" y="157.23" width="5.10" height="4.07" fill="#22b8f2" stroke="#2c4640" stroke-width="0.7"/>
<rect x="480.62" y="159.38" width="5.10" height="1.92" fill="#20b0c4" stroke="#2c4640" stroke-width="0.7"/>
<rect x="486.55" y="160.25" width="5.10" height="1.05" fill="#6a5a3a" stroke="#2c4640" stroke-width="0.7"/>
<rect x="498.41" y="159.38" width="5.10" height="1.92" fill="#22b090" stroke="#2c4640" stroke-width="0.7"/>
<rect x="504.34" y="158.90" width="5.10" height="2.40" fill="#40e6a0" stroke="#2c4640" stroke-width="0.7"/>
<rect x="510.27" y="159.67" width="5.10" height="1.63" fill="#30b060" stroke="#2c4640" stroke-width="0.7"/>
<rect x="516.20" y="157.85" width="5.10" height="3.45" fill="#50f480" stroke="#2c4640" stroke-width="0.7"/>
<rect x="522.13" y="159.67" width="5.10" height="1.63" fill="#66a830" stroke="#2c4640" stroke-width="0.7"/>
<rect x="551.30" y="138.29" width="5.83" height="23.01" fill="#dcff20" stroke="#4c5052" stroke-width="1"/>
<rect x="557.12" y="70.47" width="5.83" height="90.83" fill="#f0ff10" stroke="#4c5052" stroke-width="1"/>
<rect x="562.94" y="31.40" width="5.83" height="129.90" fill="#ffff00" stroke="#4c5052" stroke-width="1"/>
<rect x="568.76" y="125.35" width="5.83" height="35.95" fill="#ffe000" stroke="#4c5052" stroke-width="1"/>
<rect x="574.98" y="159.38" width="5.10" height="1.92" fill="#ffc000" stroke="#2c4640" stroke-width="0.7"/>
<rect x="379.5" y="17.5" width="296.0" height="143.8" fill="none" stroke="#737373" stroke-width="1"/>
<path d="M438.7 161.3v-3M438.7 17.5v3M497.9 161.3v-3M497.9 17.5v3M557.1 161.3v-3M557.1 17.5v3M616.3 161.3v-3M616.3 17.5v3M379.5 113.4h3M675.5 113.4h-3M379.5 65.4h3M675.5 65.4h-3" stroke="#888" stroke-width="1" fill="none"/>
<polyline points="379.50,161.30 380.24,161.30 380.98,161.30 381.72,161.30 382.46,161.30 383.20,161.30 383.94,161.30 384.68,161.30 385.42,161.30 386.16,161.30 386.90,161.30 387.64,161.30 388.38,161.30 389.12,161.30 389.86,161.30 390.60,161.30 391.34,161.30 392.08,161.30 392.82,161.30 393.56,161.30 394.30,161.30 395.04,161.30 395.78,161.30 396.52,161.30 397.26,161.30 398.00,161.30 398.74,161.30 399.48,161.30 400.22,161.30 400.96,161.30 401.70,161.30 402.44,161.30 403.18,161.30 403.92,161.30 404.66,161.30 405.40,161.30 406.14,161.30 406.88,161.30 407.62,161.30 408.36,161.30 409.10,161.30 409.84,161.30 410.58,161.30 411.32,161.30 412.06,161.30 412.80,161.30 413.54,161.30 414.28,161.30 415.02,161.30 415.76,161.30 416.50,161.30 417.24,161.30 417.98,161.30 418.72,161.30 419.46,161.30 420.20,161.30 420.94,161.30 421.68,161.30 422.42,161.30 423.16,161.30 423.90,161.30 424.64,161.30 425.38,161.30 426.12,161.30 426.86,161.30 427.60,161.30 428.34,161.30 429.08,161.30 429.82,161.30 430.56,161.30 431.30,161.30 432.04,161.30 432.78,161.30 433.52,161.30 434.26,161.30 435.00,161.30 435.74,161.30 436.48,161.30 437.22,161.30 437.96,161.30 438.70,161.30 439.44,161.30 440.18,161.30 440.92,161.30 441.66,161.30 442.40,161.30 443.14,161.30 443.88,161.30 444.62,161.30 445.36,161.30 446.10,161.30 446.84,161.30 447.58,161.30 448.32,161.30 449.06,161.29 449.80,161.29 450.54,161.27 451.28,161.24 452.02,161.17 452.76,161.04 453.50,160.82 454.24,160.43 454.98,159.78 455.72,158.73 456.46,157.12 457.20,154.74 457.94,151.36 458.68,146.79 459.42,140.85 460.16,133.50 460.90,124.84 461.64,115.19 462.38,105.03 463.12,95.07 463.86,86.11 464.60,78.95 465.34,74.29 466.08,72.62 466.82,74.12 467.56,78.62 468.30,85.67 469.04,94.56 469.78,104.48 470.52,114.65 471.26,124.34 472.00,133.06 472.74,140.49 473.48,146.50 474.22,151.15 474.96,154.58 475.70,157.01 476.44,158.66 477.18,159.73 477.92,160.40 478.66,160.80 479.40,161.04 480.14,161.16 480.88,161.23 481.62,161.27 482.36,161.29 483.10,161.29 483.84,161.30 484.58,161.30 485.32,161.30 486.06,161.30 486.80,161.30 487.54,161.30 488.28,161.30 489.02,161.30 489.76,161.30 490.50,161.30 491.24,161.30 491.98,161.30 492.72,161.30 493.46,161.30 494.20,161.30 494.94,161.30 495.68,161.30 496.42,161.30 497.16,161.30 497.90,161.30 498.64,161.30 499.38,161.30 500.12,161.30 500.86,161.30 501.60,161.30 502.34,161.30 503.08,161.30 503.82,161.30 504.56,161.30 505.30,161.30 506.04,161.30 506.78,161.30 507.52,161.30 508.26,161.30 509.00,161.30 509.74,161.30 510.48,161.30 511.22,161.30 511.96,161.30 512.70,161.30 513.44,161.30 514.18,161.30 514.92,161.30 515.66,161.30 516.40,161.30 517.14,161.30 517.88,161.30 518.62,161.30 519.36,161.30 520.10,161.30 520.84,161.30 521.58,161.30 522.32,161.30 523.06,161.30 523.80,161.30 524.54,161.30 525.28,161.30 526.02,161.30 526.76,161.30 527.50,161.30 528.24,161.30 528.98,161.30 529.72,161.30 530.46,161.30 531.20,161.30 531.94,161.30 532.68,161.30 533.42,161.30 534.16,161.30 534.90,161.30 535.64,161.30 536.38,161.30 537.12,161.30 537.86,161.30 538.60,161.30 539.34,161.30 540.08,161.30 540.82,161.30 541.56,161.30 542.30,161.30 543.04,161.30 543.78,161.30 544.52,161.30 545.26,161.30 546.00,161.30 546.74,161.30 547.48,161.30 548.22,161.30 548.96,161.30 549.70,161.30 550.44,161.30 551.18,161.30 551.92,161.30 552.66,161.30 553.40,161.30 554.14,161.30 554.88,161.30 555.62,161.30 556.36,161.30 557.10,161.30 557.84,161.30 558.58,161.30 559.32,161.30 560.06,161.30 560.80,161.30 561.54,161.30 562.28,161.30 563.02,161.30 563.76,161.30 564.50,161.30 565.24,161.30 565.98,161.30 566.72,161.30 567.46,161.30 568.20,161.30 568.94,161.30 569.68,161.30 570.42,161.30 571.16,161.30 571.90,161.30 572.64,161.30 573.38,161.30 574.12,161.30 574.86,161.30 575.60,161.30 576.34,161.30 577.08,161.30 577.82,161.30 578.56,161.30 579.30,161.30 580.04,161.30 580.78,161.30 581.52,161.30 582.26,161.30 583.00,161.30 583.74,161.30 584.48,161.30 585.22,161.30 585.96,161.30 586.70,161.30 587.44,161.30 588.18,161.30 588.92,161.30 589.66,161.30 590.40,161.30 591.14,161.30 591.88,161.30 592.62,161.30 593.36,161.30 594.10,161.30 594.84,161.30 595.58,161.30 596.32,161.30 597.06,161.30 597.80,161.30 598.54,161.30 599.28,161.30 600.02,161.30 600.76,161.30 601.50,161.30 602.24,161.30 602.98,161.30 603.72,161.30 604.46,161.30 605.20,161.30 605.94,161.30 606.68,161.30 607.42,161.30 608.16,161.30 608.90,161.30 609.64,161.30 610.38,161.30 611.12,161.30 611.86,161.30 612.60,161.30 613.34,161.30 614.08,161.30 614.82,161.30 615.56,161.30 616.30,161.30 617.04,161.30 617.78,161.30 618.52,161.30 619.26,161.30 620.00,161.30 620.74,161.30 621.48,161.30 622.22,161.30 622.96,161.30 623.70,161.30 624.44,161.30 625.18,161.30 625.92,161.30 626.66,161.30 627.40,161.30 628.14,161.30 628.88,161.30 629.62,161.30 630.36,161.30 631.10,161.30 631.84,161.30 632.58,161.30 633.32,161.30 634.06,161.30 634.80,161.30 635.54,161.30 636.28,161.30 637.02,161.30 637.76,161.30 638.50,161.30 639.24,161.30 639.98,161.30 640.72,161.30 641.46,161.30 642.20,161.30 642.94,161.30 643.68,161.30 644.42,161.30 645.16,161.30 645.90,161.30 646.64,161.30 647.38,161.30 648.12,161.30 648.86,161.30 649.60,161.30 650.34,161.30 651.08,161.30 651.82,161.30 652.56,161.30 653.30,161.30 654.04,161.30 654.78,161.30 655.52,161.30 656.26,161.30 657.00,161.30 657.74,161.30 658.48,161.30 659.22,161.30 659.96,161.30 660.70,161.30 661.44,161.30 662.18,161.30 662.92,161.30 663.66,161.30 664.40,161.30 665.14,161.30 665.88,161.30 666.62,161.30 667.36,161.30 668.10,161.30 668.84,161.30 669.58,161.30 670.32,161.30 671.06,161.30 671.80,161.30 672.54,161.30 673.28,161.30 674.02,161.30 674.76,161.30 675.50,161.30" fill="none" stroke="#0072bd" stroke-width="1.4"/>
<polyline points="379.50,161.30 380.24,161.30 380.98,161.30 381.72,161.30 382.46,161.30 383.20,161.30 383.94,161.30 384.68,161.30 385.42,161.30 386.16,161.30 386.90,161.30 387.64,161.30 388.38,161.30 389.12,161.30 389.86,161.30 390.60,161.30 391.34,161.30 392.08,161.30 392.82,161.30 393.56,161.30 394.30,161.30 395.04,161.30 395.78,161.30 396.52,161.30 397.26,161.30 398.00,161.30 398.74,161.30 399.48,161.30 400.22,161.30 400.96,161.30 401.70,161.30 402.44,161.30 403.18,161.30 403.92,161.30 404.66,161.30 405.40,161.30 406.14,161.30 406.88,161.30 407.62,161.30 408.36,161.30 409.10,161.30 409.84,161.30 410.58,161.30 411.32,161.30 412.06,161.30 412.80,161.30 413.54,161.30 414.28,161.30 415.02,161.30 415.76,161.30 416.50,161.30 417.24,161.30 417.98,161.30 418.72,161.30 419.46,161.30 420.20,161.30 420.94,161.30 421.68,161.30 422.42,161.30 423.16,161.30 423.90,161.30 424.64,161.30 425.38,161.30 426.12,161.30 426.86,161.30 427.60,161.30 428.34,161.30 429.08,161.30 429.82,161.30 430.56,161.30 431.30,161.30 432.04,161.30 432.78,161.30 433.52,161.30 434.26,161.30 435.00,161.30 435.74,161.30 436.48,161.30 437.22,161.30 437.96,161.30 438.70,161.30 439.44,161.30 440.18,161.30 440.92,161.30 441.66,161.30 442.40,161.30 443.14,161.30 443.88,161.30 444.62,161.30 445.36,161.30 446.10,161.30 446.84,161.30 447.58,161.30 448.32,161.30 449.06,161.30 449.80,161.30 450.54,161.30 451.28,161.30 452.02,161.30 452.76,161.30 453.50,161.30 454.24,161.30 454.98,161.30 455.72,161.30 456.46,161.30 457.20,161.30 457.94,161.30 458.68,161.30 459.42,161.30 460.16,161.30 460.90,161.30 461.64,161.30 462.38,161.30 463.12,161.30 463.86,161.30 464.60,161.30 465.34,161.30 466.08,161.30 466.82,161.30 467.56,161.30 468.30,161.30 469.04,161.30 469.78,161.30 470.52,161.30 471.26,161.30 472.00,161.30 472.74,161.30 473.48,161.30 474.22,161.30 474.96,161.30 475.70,161.30 476.44,161.30 477.18,161.30 477.92,161.30 478.66,161.30 479.40,161.30 480.14,161.30 480.88,161.30 481.62,161.30 482.36,161.30 483.10,161.30 483.84,161.30 484.58,161.30 485.32,161.30 486.06,161.30 486.80,161.30 487.54,161.30 488.28,161.30 489.02,161.30 489.76,161.30 490.50,161.30 491.24,161.30 491.98,161.30 492.72,161.30 493.46,161.30 494.20,161.30 494.94,161.30 495.68,161.30 496.42,161.30 497.16,161.30 497.90,161.30 498.64,161.30 499.38,161.30 500.12,161.30 500.86,161.30 501.60,161.30 502.34,161.30 503.08,161.30 503.82,161.30 504.56,161.30 505.30,161.30 506.04,161.30 506.78,161.30 507.52,161.30 508.26,161.30 509.00,161.30 509.74,161.30 510.48,161.30 511.22,161.30 511.96,161.30 512.70,161.30 513.44,161.30 514.18,161.30 514.92,161.30 515.66,161.30 516.40,161.30 517.14,161.30 517.88,161.30 518.62,161.30 519.36,161.30 520.10,161.30 520.84,161.30 521.58,161.30 522.32,161.30 523.06,161.30 523.80,161.30 524.54,161.30 525.28,161.30 526.02,161.30 526.76,161.30 527.50,161.30 528.24,161.30 528.98,161.30 529.72,161.30 530.46,161.30 531.20,161.30 531.94,161.30 532.68,161.30 533.42,161.30 534.16,161.30 534.90,161.30 535.64,161.30 536.38,161.30 537.12,161.30 537.86,161.30 538.60,161.30 539.34,161.29 540.08,161.28 540.82,161.27 541.56,161.24 542.30,161.20 543.04,161.12 543.78,160.99 544.52,160.79 545.26,160.46 546.00,159.96 546.74,159.20 547.48,158.09 548.22,156.50 548.96,154.28 549.70,151.28 550.44,147.31 551.18,142.20 551.92,135.82 552.66,128.08 553.40,118.96 554.14,108.55 554.88,97.07 555.62,84.85 556.36,72.37 557.10,60.17 557.84,48.89 558.58,39.18 559.32,31.61 560.06,26.68 560.80,24.72 561.54,25.85 562.28,30.00 563.02,36.90 563.76,46.09 564.50,57.00 565.24,69.01 565.98,81.48 566.72,93.83 567.46,105.54 568.20,116.27 568.94,125.75 569.68,133.87 570.42,140.61 571.16,146.04 571.90,150.31 572.64,153.56 573.38,155.97 574.12,157.71 574.86,158.94 575.60,159.78 576.34,160.35 577.08,160.71 577.82,160.95 578.56,161.09 579.30,161.18 580.04,161.23 580.78,161.26 581.52,161.28 582.26,161.29 583.00,161.29 583.74,161.30 584.48,161.30 585.22,161.30 585.96,161.30 586.70,161.30 587.44,161.30 588.18,161.30 588.92,161.30 589.66,161.30 590.40,161.30 591.14,161.30 591.88,161.30 592.62,161.30 593.36,161.30 594.10,161.30 594.84,161.30 595.58,161.30 596.32,161.30 597.06,161.30 597.80,161.30 598.54,161.30 599.28,161.30 600.02,161.30 600.76,161.30 601.50,161.30 602.24,161.30 602.98,161.30 603.72,161.30 604.46,161.30 605.20,161.30 605.94,161.30 606.68,161.30 607.42,161.30 608.16,161.30 608.90,161.30 609.64,161.30 610.38,161.30 611.12,161.30 611.86,161.30 612.60,161.30 613.34,161.30 614.08,161.30 614.82,161.30 615.56,161.30 616.30,161.30 617.04,161.30 617.78,161.30 618.52,161.30 619.26,161.30 620.00,161.30 620.74,161.30 621.48,161.30 622.22,161.30 622.96,161.30 623.70,161.30 624.44,161.30 625.18,161.30 625.92,161.30 626.66,161.30 627.40,161.30 628.14,161.30 628.88,161.30 629.62,161.30 630.36,161.30 631.10,161.30 631.84,161.30 632.58,161.30 633.32,161.30 634.06,161.30 634.80,161.30 635.54,161.30 636.28,161.30 637.02,161.30 637.76,161.30 638.50,161.30 639.24,161.30 639.98,161.30 640.72,161.30 641.46,161.30 642.20,161.30 642.94,161.30 643.68,161.30 644.42,161.30 645.16,161.30 645.90,161.30 646.64,161.30 647.38,161.30 648.12,161.30 648.86,161.30 649.60,161.30 650.34,161.30 651.08,161.30 651.82,161.30 652.56,161.30 653.30,161.30 654.04,161.30 654.78,161.30 655.52,161.30 656.26,161.30 657.00,161.30 657.74,161.30 658.48,161.30 659.22,161.30 659.96,161.30 660.70,161.30 661.44,161.30 662.18,161.30 662.92,161.30 663.66,161.30 664.40,161.30 665.14,161.30 665.88,161.30 666.62,161.30 667.36,161.30 668.10,161.30 668.84,161.30 669.58,161.30 670.32,161.30 671.06,161.30 671.80,161.30 672.54,161.30 673.28,161.30 674.02,161.30 674.76,161.30 675.50,161.30" fill="none" stroke="#d95319" stroke-width="1.5"/>
<path d="M379.5 161.3H675.5" stroke="#404040" stroke-width="1" opacity="0.55"/>
<text x="382.8" y="176.7" font-size="11" text-anchor="middle">62</text>
<text x="442.0" y="176.7" font-size="11" text-anchor="middle">64</text>
<text x="501.2" y="176.7" font-size="11" text-anchor="middle">66</text>
<text x="560.4" y="176.7" font-size="11" text-anchor="middle">68</text>
<text x="619.6" y="176.7" font-size="11" text-anchor="middle">70</text>
<text x="678.8" y="176.7" font-size="11" text-anchor="middle">72</text>
<text x="374.6" y="165.2" font-size="11" text-anchor="end">0</text>
<text x="374.6" y="117.3" font-size="11" text-anchor="end">100</text>
<text x="374.6" y="69.3" font-size="11" text-anchor="end">200</text>
<text x="374.6" y="21.4" font-size="11" text-anchor="end">300</text>
<text transform="translate(349.8,119.3) rotate(-90)" font-size="11.9" textLength="58.8" lengthAdjust="spacingAndGlyphs">Frequency</text>
<text x="510.2" y="190.0" font-size="11.6" text-anchor="start" textLength="23.8" lengthAdjust="spacingAndGlyphs">Tm (</text>
<circle cx="537.2" cy="182.4" r="2.0" fill="none" stroke="#000" stroke-width="1.02"/>
<text x="540.3" y="190.0" font-size="11.6" text-anchor="start" textLength="11.6" lengthAdjust="spacingAndGlyphs">C)</text>
<text x="394.9" y="46.0" font-size="11.6" text-anchor="start" textLength="34.8" lengthAdjust="spacingAndGlyphs">N=935</text>
<text x="476.8" y="75.1" font-size="11.6" text-anchor="start" textLength="29.2" lengthAdjust="spacingAndGlyphs">G12D</text>
<text x="580.3" y="47.5" font-size="12.3" text-anchor="start" textLength="17.9" lengthAdjust="spacingAndGlyphs">WT</text>
<text x="395.3" y="99.1" font-size="11.6" text-anchor="start" textLength="22.4" lengthAdjust="spacingAndGlyphs">64.9</text>
<circle cx="421.7" cy="91.8" r="2.0" fill="none" stroke="#000" stroke-width="1.02"/>
<text x="424.9" y="99.1" font-size="11.6" text-anchor="start" textLength="7.8" lengthAdjust="spacingAndGlyphs">C</text>
<text x="395.2" y="114.5" font-size="11.6" text-anchor="start" textLength="26.8" lengthAdjust="spacingAndGlyphs">(σ0.2</text>
<circle cx="426.2" cy="107.6" r="2.0" fill="none" stroke="#000" stroke-width="1.02"/>
<text x="429.3" y="114.5" font-size="11.6" text-anchor="start" textLength="11.6" lengthAdjust="spacingAndGlyphs">C)</text>
<text x="582.6" y="90.0" font-size="11.6" text-anchor="start" textLength="22.8" lengthAdjust="spacingAndGlyphs">68.1</text>
<circle cx="609.6" cy="82.5" r="2.0" fill="none" stroke="#000" stroke-width="1.02"/>
<text x="612.6" y="90.0" font-size="11.6" text-anchor="start" textLength="7.8" lengthAdjust="spacingAndGlyphs">C</text>
<text x="582.9" y="105.9" font-size="11.6" text-anchor="start" textLength="26.8" lengthAdjust="spacingAndGlyphs">(σ0.2</text>
<circle cx="614.0" cy="98.9" r="2.0" fill="none" stroke="#000" stroke-width="1.02"/>
<text x="617.3" y="105.9" font-size="11.6" text-anchor="start" textLength="11.4" lengthAdjust="spacingAndGlyphs">C)</text>
</svg>
</body></html>
